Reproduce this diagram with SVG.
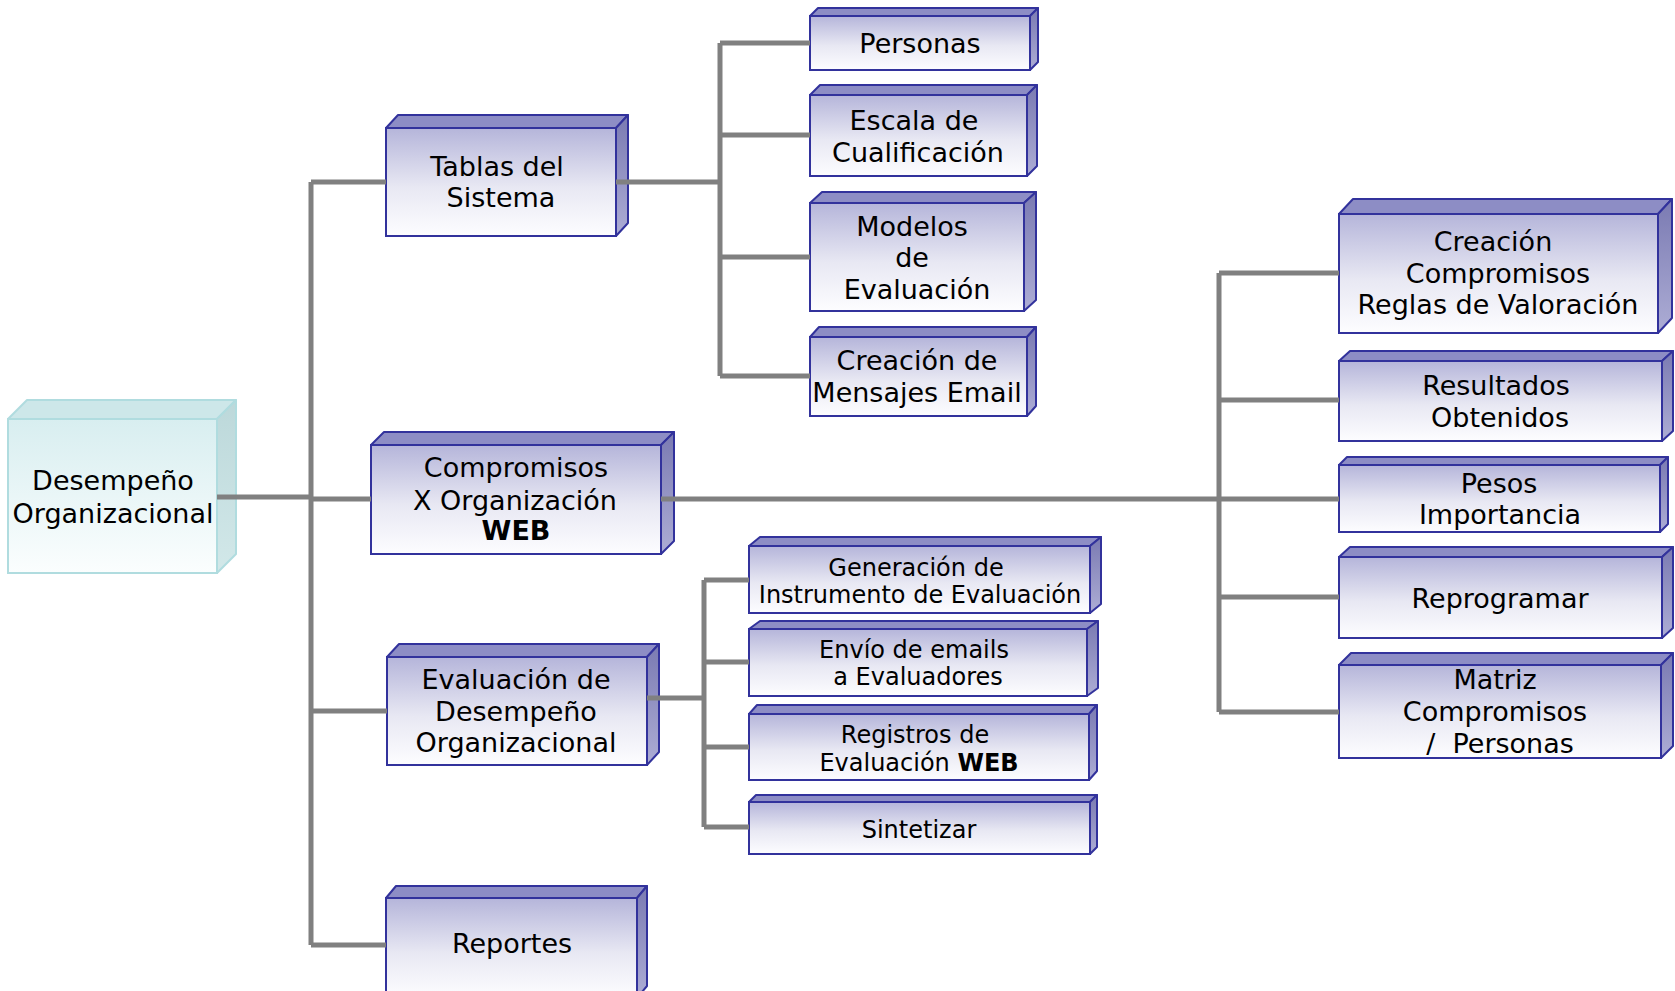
<svg xmlns="http://www.w3.org/2000/svg" width="1675" height="991" viewBox="0 0 1675 991">
<defs>
<linearGradient id="gF" x1="0" y1="0" x2="0" y2="1"><stop offset="0" stop-color="#b5b5da"/><stop offset="0.55" stop-color="#e8e8f3"/><stop offset="1" stop-color="#fdfdff"/></linearGradient>
<linearGradient id="gS" x1="0" y1="0" x2="0" y2="1"><stop offset="0" stop-color="#7a7ab2"/><stop offset="1" stop-color="#adadd5"/></linearGradient>
<linearGradient id="gRF" x1="0" y1="0" x2="0" y2="1"><stop offset="0" stop-color="#d8eef0"/><stop offset="1" stop-color="#fbfefe"/></linearGradient>
<linearGradient id="gRS" x1="0" y1="0" x2="0" y2="1"><stop offset="0" stop-color="#bcd8da"/><stop offset="1" stop-color="#d2e8e9"/></linearGradient>
<style>
.f{fill:url(#gF);stroke:#32329c;stroke-width:2}
.t{fill:#8d8dc5;stroke:#32329c;stroke-width:2;stroke-linejoin:round}
.s{fill:url(#gS);stroke:#32329c;stroke-width:2;stroke-linejoin:round}
.rf{fill:url(#gRF);stroke:#b0dcdf;stroke-width:2}
.rt{fill:#cde7e9;stroke:#b0dcdf;stroke-width:2;stroke-linejoin:round}
.rs{fill:url(#gRS);stroke:#b0dcdf;stroke-width:2;stroke-linejoin:round}
text{font-family:"DejaVu Sans",Verdana,sans-serif;font-size:27px;fill:#000;text-anchor:middle;white-space:pre}
.sm{font-size:24px}
.b{font-weight:bold}
.c{fill:none;stroke:#808080;stroke-width:5}
</style>
</defs>
<g id="nodes">
<g id="root">
<rect class="rf" x="8" y="419" width="209" height="154"/>
<polygon class="rt" points="8,419 27,400 236,400 217,419"/>
<polygon class="rs" points="217,419 236,400 236,554 217,573"/>
<text x="113" y="490">Desempeño</text>
<text x="113" y="523">Organizacional</text>
</g>
<g id="tablas">
<rect class="f" x="386" y="128" width="230" height="108"/>
<polygon class="t" points="386,128 398,115 628,115 616,128"/>
<polygon class="s" points="616,128 628,115 628,223 616,236"/>
<text x="497" y="176">Tablas del</text>
<text x="501" y="207">Sistema</text>
</g>
<g id="personas">
<rect class="f" x="810" y="16" width="220" height="54"/>
<polygon class="t" points="810,16 818,8 1038,8 1030,16"/>
<polygon class="s" points="1030,16 1038,8 1038,62 1030,70"/>
<text x="920" y="53">Personas</text>
</g>
<g id="escala">
<rect class="f" x="810" y="95" width="217" height="81"/>
<polygon class="t" points="810,95 820,85 1037,85 1027,95"/>
<polygon class="s" points="1027,95 1037,85 1037,166 1027,176"/>
<text x="914" y="130">Escala de</text>
<text x="918" y="162">Cualificación</text>
</g>
<g id="modelos">
<rect class="f" x="810" y="203" width="214" height="108"/>
<polygon class="t" points="810,203 822,192 1036,192 1024,203"/>
<polygon class="s" points="1024,203 1036,192 1036,300 1024,311"/>
<text x="912" y="236">Modelos</text>
<text x="912" y="267">de</text>
<text x="917" y="299">Evaluación</text>
</g>
<g id="mensajes">
<rect class="f" x="810" y="337" width="217" height="79"/>
<polygon class="t" points="810,337 819,327 1036,327 1027,337"/>
<polygon class="s" points="1027,337 1036,327 1036,406 1027,416"/>
<text x="917" y="370">Creación de</text>
<text x="917" y="402">Mensajes Email</text>
</g>
<g id="compromisos">
<rect class="f" x="371" y="445" width="290" height="109"/>
<polygon class="t" points="371,445 384,432 674,432 661,445"/>
<polygon class="s" points="661,445 674,432 674,541 661,554"/>
<text x="516" y="477">Compromisos</text>
<text x="515" y="510">X Organización</text>
<text x="516" y="540" class="b">WEB</text>
</g>
<g id="evaluacion">
<rect class="f" x="387" y="657" width="260" height="108"/>
<polygon class="t" points="387,657 399,644 659,644 647,657"/>
<polygon class="s" points="647,657 659,644 659,752 647,765"/>
<text x="516" y="689">Evaluación de</text>
<text x="516" y="721">Desempeño</text>
<text x="516" y="752">Organizacional</text>
</g>
<g id="reportes">
<rect class="f" x="386" y="898" width="251" height="100"/>
<polygon class="t" points="386,898 396,886 647,886 637,898"/>
<polygon class="s" points="637,898 647,886 647,986 637,998"/>
<text x="512" y="953">Reportes</text>
</g>
<g id="generacion">
<rect class="f" x="749" y="546" width="341" height="67"/>
<polygon class="t" points="749,546 760,537 1101,537 1090,546"/>
<polygon class="s" points="1090,546 1101,537 1101,604 1090,613"/>
<text class="sm" x="916" y="576">Generación de</text>
<text class="sm" x="920" y="603">Instrumento de Evaluación</text>
</g>
<g id="envio">
<rect class="f" x="749" y="629" width="338" height="67"/>
<polygon class="t" points="749,629 760,621 1098,621 1087,629"/>
<polygon class="s" points="1087,629 1098,621 1098,688 1087,696"/>
<text class="sm" x="914" y="658">Envío de emails</text>
<text class="sm" x="918" y="685">a Evaluadores</text>
</g>
<g id="registros">
<rect class="f" x="749" y="714" width="340" height="66"/>
<polygon class="t" points="749,714 757,705 1097,705 1089,714"/>
<polygon class="s" points="1089,714 1097,705 1097,771 1089,780"/>
<text class="sm" x="915" y="743">Registros de</text>
<text class="sm" x="919" y="771">Evaluación <tspan class="b">WEB</tspan></text>
</g>
<g id="sintetizar">
<rect class="f" x="749" y="802" width="341" height="52"/>
<polygon class="t" points="749,802 756,795 1097,795 1090,802"/>
<polygon class="s" points="1090,802 1097,795 1097,847 1090,854"/>
<text class="sm" x="919" y="838">Sintetizar</text>
</g>
<g id="creacion">
<rect class="f" x="1339" y="214" width="319" height="119"/>
<polygon class="t" points="1339,214 1353,199 1672,199 1658,214"/>
<polygon class="s" points="1658,214 1672,199 1672,318 1658,333"/>
<text x="1493" y="251">Creación</text>
<text x="1498" y="283">Compromisos</text>
<text x="1498" y="314">Reglas de Valoración</text>
</g>
<g id="resultados">
<rect class="f" x="1339" y="361" width="323" height="80"/>
<polygon class="t" points="1339,361 1350,351 1673,351 1662,361"/>
<polygon class="s" points="1662,361 1673,351 1673,431 1662,441"/>
<text x="1496" y="395">Resultados</text>
<text x="1500" y="427">Obtenidos</text>
</g>
<g id="pesos">
<rect class="f" x="1339" y="465" width="321" height="67"/>
<polygon class="t" points="1339,465 1347,457 1668,457 1660,465"/>
<polygon class="s" points="1660,465 1668,457 1668,524 1660,532"/>
<text x="1499" y="493">Pesos</text>
<text x="1500" y="524">Importancia</text>
</g>
<g id="reprogramar">
<rect class="f" x="1339" y="557" width="323" height="81"/>
<polygon class="t" points="1339,557 1350,547 1673,547 1662,557"/>
<polygon class="s" points="1662,557 1673,547 1673,628 1662,638"/>
<text x="1500" y="608">Reprogramar</text>
</g>
<g id="matriz">
<rect class="f" x="1339" y="665" width="322" height="93"/>
<polygon class="t" points="1339,665 1351,653 1673,653 1661,665"/>
<polygon class="s" points="1661,665 1673,653 1673,746 1661,758"/>
<text x="1495" y="689">Matriz</text>
<text x="1495" y="721">Compromisos</text>
<text x="1500" y="753">/  Personas</text>
</g>
</g>
<g id="connectors" class="c">
<path class="c" d="M217 497 H311"/>
<path class="c" d="M311 182 V945"/>
<path class="c" d="M311 182 H386 M311 499 H371 M311 711 H387 M311 945 H386"/>
<path class="c" d="M616 182 H720"/>
<path class="c" d="M720 43 V376 M720 43 H810 M720 135 H810 M720 257 H810 M720 376 H810"/>
<path class="c" d="M661 499 H1219"/>
<path class="c" d="M1219 273 V712 M1219 273 H1339 M1219 400 H1339 M1219 499 H1339 M1219 597 H1339 M1219 712 H1339"/>
<path class="c" d="M647 698 H704"/>
<path class="c" d="M704 580 V827 M704 580 H749 M704 662 H749 M704 747 H749 M704 827 H749"/>
</g>
</svg>
